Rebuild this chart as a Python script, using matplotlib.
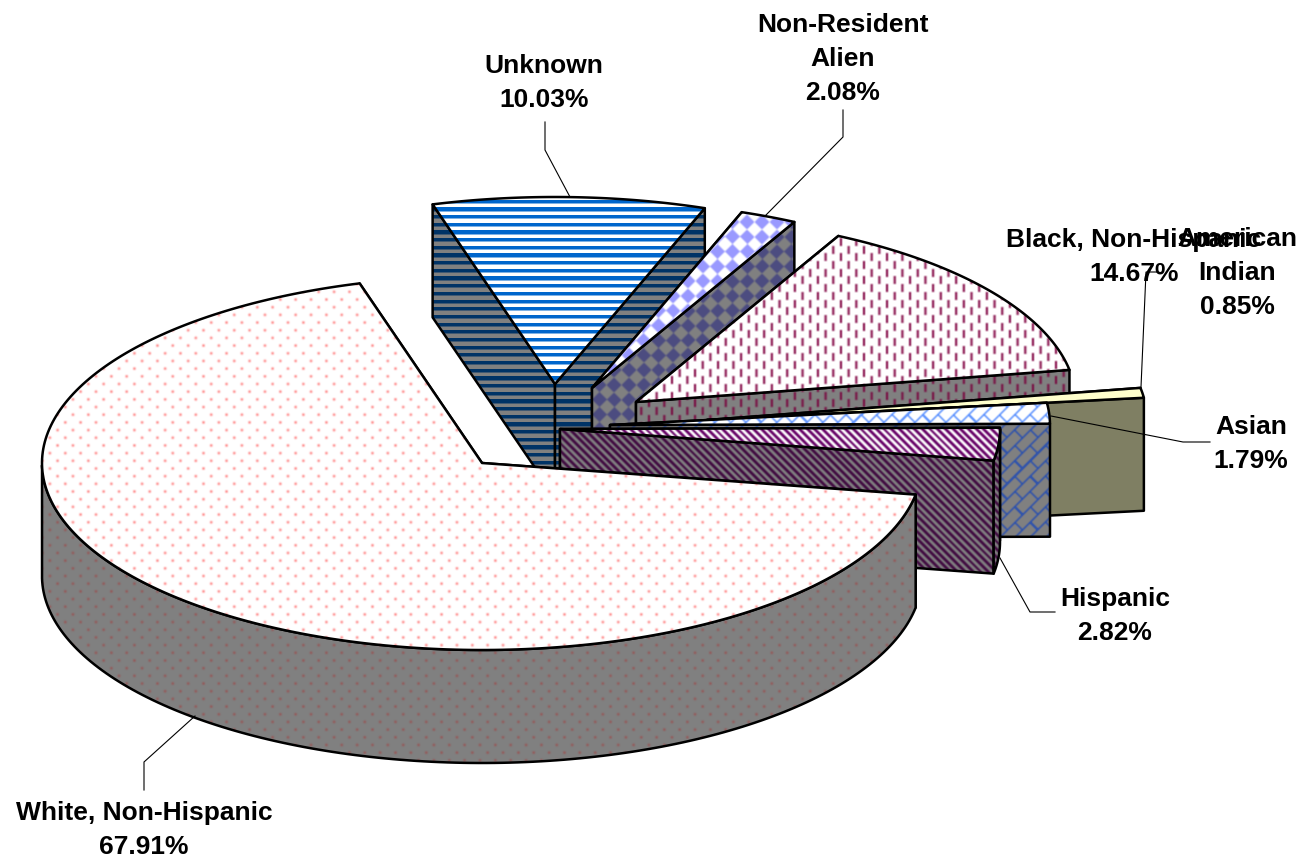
import numpy as np
import matplotlib
matplotlib.use("Agg")
import matplotlib.pyplot as plt
from matplotlib.patches import Polygon

categories = ["Unknown", "Non-Resident\nAlien", "Black, Non-Hispanic", "American\nIndian",
              "Asian", "Hispanic", "White, Non-Hispanic"]
values = [10.03, 2.08, 14.67, 0.85, 1.79, 2.82, 67.91]

# layout (pixels)
W, H = 1307, 860
RX, RY, DEPTH = 440, 187, 113
START = 106.15
apex_x = [555, 592, 636, 707, 610, 560, 482]
apex_y = [384, 388, 402, 420, 425, 429, 463]
label_xy = [(544, 66), (843, 25), (1134, 240), (1237, 239), (1251, 427), (1115, 599), (144, 813)]
leaders = [
    [(570, 197), (545, 150), (545, 122)],
    [(766, 215), (843, 137), (843, 110)],
    None,
    [(1141, 387), (1146, 272), (1157, 272)],
    [(1051, 416), (1183, 442), (1210, 442)],
    [(1000, 558), (1030, 612), (1055, 612)],
    [(195, 716), (144, 762), (144, 790)],
]

yy, xx = np.mgrid[0:H, 0:W].astype(float)
yy += 0.5
xx += 0.5
P = 7.68


def hexc(s):
    return np.array([int(s[i:i + 2], 16) / 255 for i in (1, 3, 5)])


def soften(m):
    # the pattern fills of the reference are slightly blurred
    for axis in (0, 1):
        m = 0.5 * m + 0.25 * np.roll(m, 1, axis) + 0.25 * np.roll(m, -1, axis)
    return m


def compose(mask, fg, bg):
    m = np.clip(mask, 0, 1)[..., None]
    return m * hexc(fg) + (1 - m) * hexc(bg)


def stripes_mask():
    t = yy % P
    return np.where(t < 3.2, 1.0, np.where(t < 4.2, 0.5, 0.0))


def checker_mask():
    p = 14.8
    return soften(((np.floor((xx + yy) / p) + np.floor((xx - yy) / p)) % 2 == 0).astype(float))


def dash_mask():
    col = np.floor(xx / P)
    x = np.abs(xx % P - P / 2)
    y = (yy + col * P) % (2 * P)
    return soften(np.clip(1.5 - x, 0, 1) * (y < 8)) * 1.25


def dot_mask():
    col = np.floor(xx / P)
    x = xx % P - P / 2
    y = (yy + col * P) % (2 * P) - P
    return soften(np.clip(1.0 - np.hypot(x, y) / 1.9, 0, 1)) * 1.25


def diag_mask():
    return soften((((xx - yy) % P) < 3.8).astype(float))


def brick_mask():
    s = np.sqrt(2)
    u = (xx - yy) / s
    v = (xx + yy) / s
    pv, pu = P * s, 2 * P * s
    row = np.floor(v / pv)
    line = (v % pv) < 1.5
    cross = ((u + row * pu / 2) % pu) < 1.5
    return soften((line | cross).astype(float)) * 1.2


masks = [stripes_mask(), checker_mask(), dash_mask(), None, brick_mask(), diag_mask(), dot_mask()]
top_fg = ["#0066CC", "#9999FF", "#993366", None, "#6699FF", "#660066", "#FF7070"]
side_fg = ["#003366", "#4C4C80", "#7A1F4C", None, "#3355AA", "#400A40", "#9A5050"]
top_plain = {3: "#FFFFCC"}
side_plain = {3: "#7F7F63"}

fig = plt.figure(figsize=(W / 100, H / 100), dpi=100)
ax = fig.add_axes([0, 0, 1, 1])
ax.set_xlim(0, W)
ax.set_ylim(H, 0)
ax.axis("off")

frac = np.array(values) / np.sum(values) * 360
ends = START - np.cumsum(frac)
starts = ends + frac
LW = 1.8
z = 1


def face(points, i, top):
    global z
    poly = np.asarray(points)
    plain = (top_plain if top else side_plain).get(i)
    if plain is not None:
        ax.add_patch(Polygon(poly, closed=True, fc=plain, ec="black", lw=LW, joinstyle="round", zorder=z))
        z += 1
        return
    fg = (top_fg if top else side_fg)[i]
    bg = "#FFFFFF" if top else "#808080"
    img = compose(masks[i], fg, bg)
    im = ax.imshow(img, extent=(0, W, H, 0), aspect="auto", interpolation="nearest", zorder=z)
    im.set_clip_path(Polygon(poly, closed=True, transform=ax.transData))
    z += 1
    ax.add_patch(Polygon(poly, closed=True, fc="none", ec="black", lw=LW, joinstyle="round", zorder=z))
    z += 1


for i in range(len(values)):
    cx, cy = apex_x[i], apex_y[i]
    th = np.radians(np.linspace(starts[i], ends[i], 240))
    arc = np.column_stack([cx + RX * np.cos(th), cy - RY * np.sin(th)])
    c = np.array([cx, cy])
    d = np.array([0, DEPTH])
    face([c, arc[0], arc[0] + d, c + d], i, False)
    face([c, arc[-1], arc[-1] + d, c + d], i, False)
    front = np.sin(th) < 0
    if front.any():
        rim = arc[front]
        face(np.vstack([rim, (rim + d)[::-1]]), i, False)
    face(np.vstack([c, arc]), i, True)

for i, (name, v) in enumerate(zip(categories, values)):
    if leaders[i]:
        p = np.array(leaders[i])
        ax.plot(p[:, 0], p[:, 1], color="black", lw=0.8, zorder=z + 1, solid_joinstyle="miter")
    x, y = label_xy[i]
    lines = name.split("\n") + [f"{v:.2f}%"]
    for k, line in enumerate(lines):
        ax.text(x, y + k * 33.8, line, ha="center", va="center", fontsize=19, fontweight="bold",
                family="Liberation Sans", color="black", zorder=z + 2)

fig.savefig("out.png", dpi=100, facecolor="white")
